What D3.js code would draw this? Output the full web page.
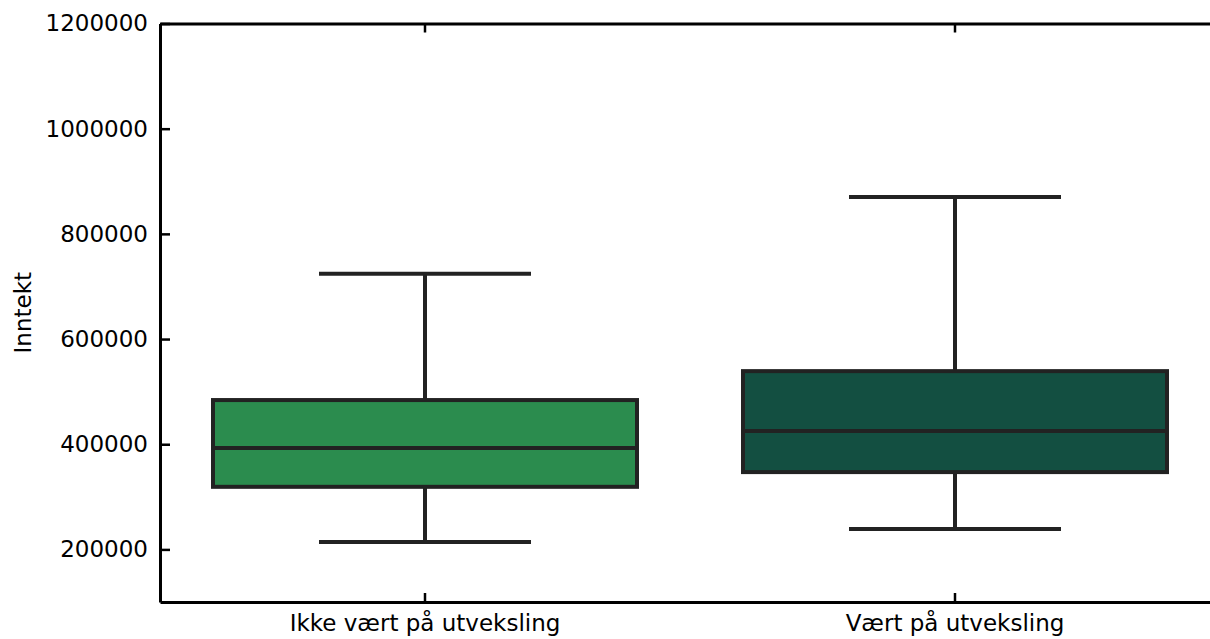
<!DOCTYPE html>
<html><head><meta charset="utf-8">
<script src="https://cdn.jsdelivr.net/npm/d3@7"></script>
<style>body{margin:0;background:#fff}svg text{font-family:"DejaVu Sans",sans-serif}</style>
</head><body><svg id="c" width="1210" height="639"></svg>
<script>
const categories = ["Ikke vært på utveksling", "Vært på utveksling"];
const whiskerLow = [214000, 239000];
const q1 = [319000, 347000];
const median = [393000, 425000];
const q3 = [484000, 539000];
const whiskerHigh = [724000, 870000];
const colors = ["#2b8c4e", "#134f41"];
const yTicks = [200000, 400000, 600000, 800000, 1000000, 1200000];

(function () {
const svg = d3.select("#c");
const mL = 160, mR = 1220, mT = 23.5, mB = 602;
const x = d3.scaleBand().domain(categories).range([mL, mR]).paddingInner(0).paddingOuter(0);
const y = d3.scaleLinear().domain([100000, 1200000]).range([mB, mT]);
const bw = x.bandwidth() * 0.8;
const cx = c => x(c) + x.bandwidth() / 2;
const fs = 23;

const data = categories.map((c, i) => ({c, lo: whiskerLow[i], q1: q1[i], med: median[i], q3: q3[i], hi: whiskerHigh[i], col: colors[i]}));
const g = svg.append("g");
const stroke = "#222222", sw = 4;
data.forEach(d => {
  const xc = cx(d.c);
  g.append("line").attr("x1", xc).attr("x2", xc).attr("y1", y(d.hi)).attr("y2", y(d.q3)).attr("stroke", stroke).attr("stroke-width", sw);
  g.append("line").attr("x1", xc).attr("x2", xc).attr("y1", y(d.q1)).attr("y2", y(d.lo)).attr("stroke", stroke).attr("stroke-width", sw);
  g.append("line").attr("x1", xc - bw / 4).attr("x2", xc + bw / 4).attr("y1", y(d.hi)).attr("y2", y(d.hi)).attr("stroke", stroke).attr("stroke-width", sw);
  g.append("line").attr("x1", xc - bw / 4).attr("x2", xc + bw / 4).attr("y1", y(d.lo)).attr("y2", y(d.lo)).attr("stroke", stroke).attr("stroke-width", sw);
  g.append("rect").attr("x", xc - bw / 2).attr("width", bw).attr("y", y(d.q3)).attr("height", y(d.q1) - y(d.q3))
    .attr("fill", d.col).attr("stroke", stroke).attr("stroke-width", sw);
  g.append("line").attr("x1", xc - bw / 2).attr("x2", xc + bw / 2).attr("y1", y(d.med)).attr("y2", y(d.med)).attr("stroke", stroke).attr("stroke-width", sw);
});

const yAxis = d3.axisLeft(y).tickValues(yTicks).tickSizeInner(-10).tickSizeOuter(0).tickPadding(12).tickFormat(d3.format("d"));
const ya = svg.append("g").attr("transform", `translate(${mL},0)`).call(yAxis);
ya.select(".domain").attr("stroke", "#000").attr("stroke-width", 3);
ya.selectAll(".tick line").attr("stroke", "#000").attr("stroke-width", 2.5);
ya.selectAll(".tick text").attr("font-size", fs).attr("fill", "#000").attr("font-family", "DejaVu Sans");

const xAxis = d3.axisBottom(x).tickSizeInner(-9).tickSizeOuter(0).tickPadding(13);
const xa = svg.append("g").attr("transform", `translate(0,${mB})`).call(xAxis);
xa.select(".domain").attr("stroke", "#000").attr("stroke-width", 3);
xa.selectAll(".tick line").attr("stroke", "#000").attr("stroke-width", 2.5);
xa.selectAll(".tick text").attr("font-size", fs).attr("fill", "#000").attr("font-family", "DejaVu Sans");

const xTop = d3.axisTop(x).tickSizeInner(-9).tickSizeOuter(0).tickFormat("");
const xt = svg.append("g").attr("transform", `translate(0,${mT})`).call(xTop);
xt.select(".domain").attr("stroke", "#000").attr("stroke-width", 3);
xt.selectAll(".tick line").attr("stroke", "#000").attr("stroke-width", 2.5);

svg.append("text").attr("transform", `translate(31,${(mT + mB) / 2}) rotate(-90)`)
  .attr("text-anchor", "middle").attr("font-size", fs).attr("fill", "#000").text("Inntekt");
})();
</script></body></html>
